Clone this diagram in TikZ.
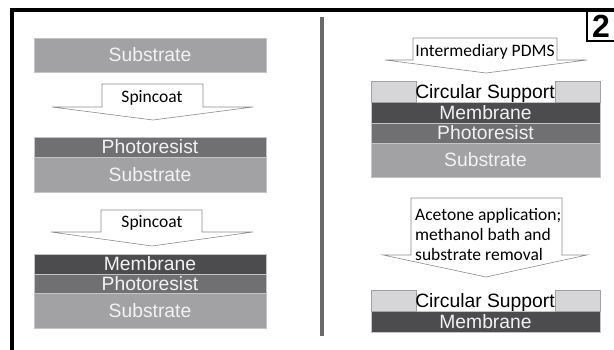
\documentclass[tikz,border=0pt]{standalone}
\usepackage{fontspec}
\setmainfont{Liberation Sans}
\newfontfamily\calibrifont{Carlito}
\definecolor{substrategray}{HTML}{A2A2A4}
\definecolor{resistgray}{HTML}{707072}
\definecolor{membranegray}{HTML}{4C4C4E}
\definecolor{supportgray}{HTML}{D6D6D8}
\definecolor{layeredge}{HTML}{C4C4C6}
\definecolor{arrowedge}{HTML}{8C8C8C}
\definecolor{dividergray}{HTML}{6A6A6A}
\definecolor{layerwhite}{HTML}{F2F2F2}

\tikzset{
  layer/.style={draw=layeredge, line width=0.7pt},
  support/.style={draw=substrategray, fill=supportgray, line width=0.7pt},
  layerlabel/.style={inner sep=0pt, text height=14pt, text depth=0pt,
    font=\fontsize{19.3}{20}\selectfont},
  procarrow/.style={draw=arrowedge, fill=white, line width=0.6pt},
  proclabel/.style={inner sep=0pt, font=\calibrifont\fontsize{17.5}{20}\selectfont},
}

\begin{document}
\begin{tikzpicture}[x=1pt, y=-1pt]
        \useasboundingbox (0,0) rectangle (614,350);
        % frame and panel number
        \draw[line width=3.5pt, line join=miter] (12,350) -- (12,10) -- (614,10);
        \draw[line width=2.5pt] (587,10) -- (587,41) -- (614,41);
        \node[font=\bfseries\fontsize{32}{32}\selectfont, inner sep=0pt, anchor=base west]
            (panel) at (592,38) {2};
        \draw[line width=4pt, dividergray] (321.5,17) -- (321.5,336);
        % layer stacks
        \foreach \xa/\xb/\ya/\yb/\col/\txt/\nm in {
            34/266/38/72/substrategray/Substrate/subA,
            34/266/137/157/resistgray/Photoresist/resB,
            34/266/157/192/substrategray/Substrate/subB,
            34/266/254/274/membranegray/Membrane/memC,
            34/266/274/293/resistgray/Photoresist/resC,
            34/266/293/328/substrategray/Substrate/subC,
            371/600/102/123/membranegray/Membrane/memD,
            371/600/123/143/resistgray/Photoresist/resD,
            371/600/143/177/substrategray/Substrate/subD,
            371/600/311/332/membranegray/Membrane/memE} {
            \draw[layer, fill=\col] (\xa,\ya) rectangle (\xb,\yb);
            \node[layerlabel, text=layerwhite] (\nm) at ({(\xa+\xb)/2},{(\ya+\yb)/2}) {\txt};
        }
        \foreach \ya/\yb/\nm in {81/102/supD, 290/311/supE} {
            \draw[support] (371,\ya) rectangle (416,\yb);
            \draw[support] (555,\ya) rectangle (600,\yb);
            \node[layerlabel] (\nm) at (485,{(\ya+\yb)/2}) {Circular Support};
        }
        % process arrows
        \draw[procarrow] (102,84) -- (203,84) -- (203,107) -- (253,107)
            -- (153,120) -- (52,107) -- (102,107) -- cycle;
        \node[proclabel, anchor=base] (spinA) at (152,103) {Spincoat};
        \draw[procarrow] (101,210) -- (202,210) -- (202,232) -- (253,232)
            -- (152,246) -- (51,232) -- (101,232) -- cycle;
        \node[proclabel, anchor=base] (spinB) at (152,228) {Spincoat};
        \draw[procarrow] (413,38) -- (557,38) -- (557,60) -- (587,60)
            -- (486,73) -- (385,60) -- (413,60) -- cycle;
        \node[proclabel, anchor=base] (pdms) at (485,57) {Intermediary PDMS};
        \draw[procarrow] (411,198) -- (562,198) -- (562,255) -- (587,255)
            -- (486,277) -- (383,255) -- (411,255) -- cycle;
        \node[proclabel, align=left, anchor=north west] (acetone) at (415,208)
            {Acetone application;\\methanol bath and\\substrate removal};
\end{tikzpicture}
\end{document}
